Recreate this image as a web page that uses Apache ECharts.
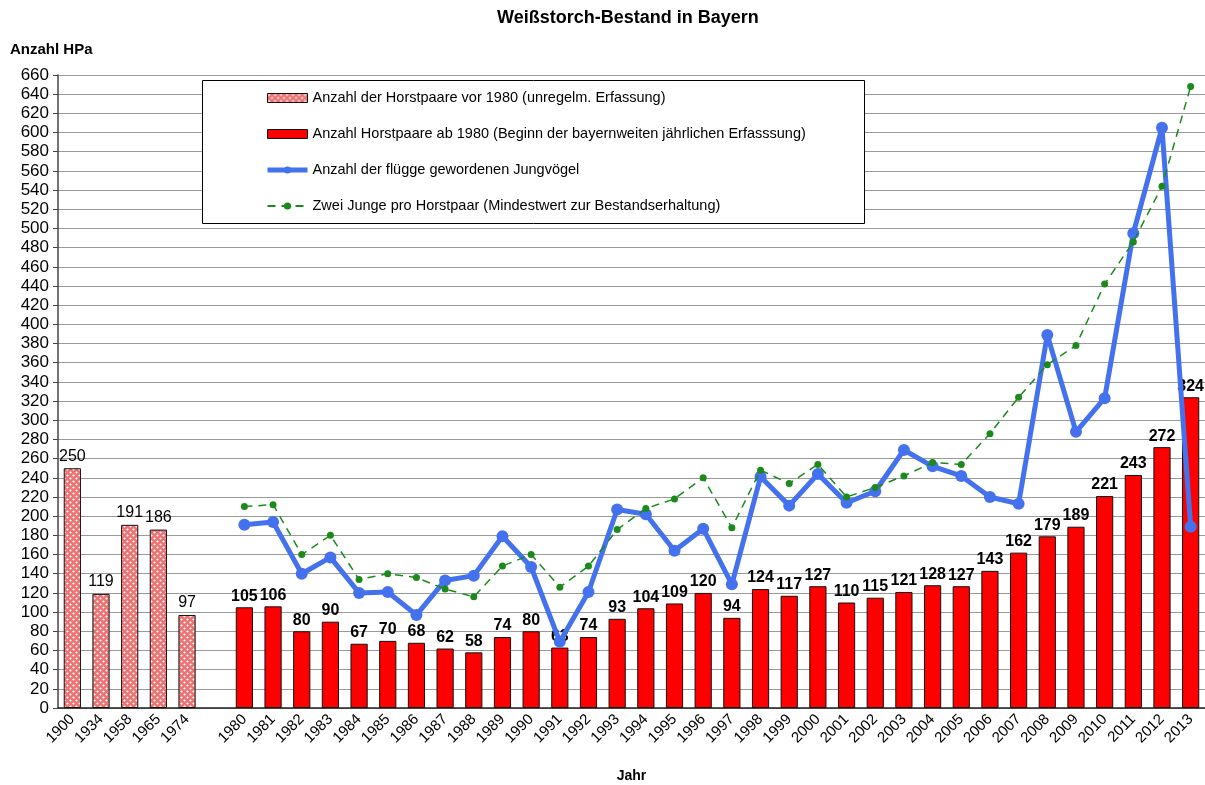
<!DOCTYPE html>
<html>
<head>
<meta charset="utf-8">
<script src="https://cdn.jsdelivr.net/npm/echarts@6/dist/echarts.min.js"></script>
<style>
html,body{margin:0;padding:0;background:#fff;}
#chart{width:1205px;height:785px;}
</style>
</head>
<body>
<div id="chart"></div>
<script>
// ---- data ----
const years = ['1900','1934','1958','1965','1974','',
  '1980','1981','1982','1983','1984','1985','1986','1987','1988','1989',
  '1990','1991','1992','1993','1994','1995','1996','1997','1998','1999',
  '2000','2001','2002','2003','2004','2005','2006','2007','2008','2009',
  '2010','2011','2012','2013'];
const pairsBefore1980 = [250,119,191,186,97];
const pairsFrom1980 = [105,106,80,90,67,70,68,62,58,74,80,63,74,93,104,109,120,94,124,117,
  127,110,115,121,128,127,143,162,179,189,221,243,272,324];
const fledglings = [191,194,140,157,120,121,97,133,138,179,147,69,121,207,202,164,187,129,241,211,
  244,214,226,269,252,242,220,213,389,288,323,495,605,189];
const twoPerPair = [210,212,160,180,134,140,136,124,116,148,160,126,148,186,208,218,240,188,248,234,
  254,220,230,242,256,254,286,324,358,378,442,486,544,648];
const seriesNames = [
  'Anzahl der Horstpaare vor 1980 (unregelm. Erfassung)',
  'Anzahl Horstpaare ab 1980 (Beginn der bayernweiten jährlichen Erfasssung)',
  'Anzahl der flügge gewordenen Jungvögel',
  'Zwei Junge pro Horstpaar (Mindestwert zur Bestandserhaltung)'
];

// ---- build ----
const nPre = pairsBefore1980.length + 1; // incl. gap slot
const pad = (n) => Array(n).fill('-');
const preData = pairsBefore1980.concat(pad(years.length - pairsBefore1980.length));
const postData = pad(nPre).concat(pairsFrom1980);
const fledgeData = pad(nPre).concat(fledglings);
const twoData = pad(nPre).concat(twoPerPair);

function makePattern(){
  const c = document.createElement('canvas');
  c.width = 6; c.height = 6;
  const g = c.getContext('2d');
  g.fillStyle = '#ee7272'; g.fillRect(0,0,6,6);
  g.fillStyle = '#ffffff';
  function dia(x,y){g.beginPath();g.moveTo(x,y-1.35);g.lineTo(x+1.35,y);g.lineTo(x,y+1.35);g.lineTo(x-1.35,y);g.closePath();g.fill();}
  dia(1.5,1.5); dia(4.5,4.5);
  return c;
}
const pattern = makePattern();

const FONT = '"Liberation Sans", Arial, sans-serif';
const chart = echarts.init(document.getElementById('chart'), null, {renderer:'canvas', width:1205, height:785});
chart.setOption({
  animation: false,
  backgroundColor: '#ffffff',
  textStyle: {fontFamily: FONT, color:'#000'},
  title: [
    {text:'Weißstorch-Bestand in Bayern', left:497, top:9, padding:0,
     textStyle:{fontFamily:FONT, fontSize:18, fontWeight:'bold', color:'#000'}},
    {text:'Anzahl HPa', left:10, top:42, padding:0,
     textStyle:{fontFamily:FONT, fontSize:15, fontWeight:'bold', color:'#000'}}
  ],
  grid: {left:58, right:0, top:75, height:633, containLabel:false, outerBoundsMode:'none'},
  graphic: [{
    type:'rect', z:10, shape:{x:202.5, y:80.5, width:662, height:143},
    style:{fill:'#fff', stroke:'#000', lineWidth:1}
  }],
  legend: {
    orient:'vertical', left:265, top:90, z:20, padding:0,
    itemWidth:40, itemHeight:9, itemGap:20,
    textStyle:{fontFamily:FONT, fontSize:14.5, color:'#000', lineHeight:16},
    data: [
      {name: seriesNames[0], icon:'rect', itemStyle:{color:{image:pattern, repeat:'repeat'}, borderColor:'#111', borderWidth:1}},
      {name: seriesNames[1], icon:'rect', itemStyle:{color:'#ff0000', borderColor:'#111', borderWidth:1}},
      {name: seriesNames[2], lineStyle:{width:5}},
      {name: seriesNames[3]}
    ]
  },
  xAxis: {
    type:'category', data: years,
    name:'Jahr', nameLocation:'middle', nameGap:61,
    nameTextStyle:{fontFamily:FONT, fontSize:14, fontWeight:'bold', color:'#000'},
    axisLine:{lineStyle:{color:'#222', width:1.5}},
    axisTick:{show:false},
    axisLabel:{rotate:45, interval:0, margin:9, fontFamily:FONT, fontSize:15, color:'#000'},
    splitLine:{show:false}
  },
  yAxis: {
    type:'value', min:0, max:660, interval:20,
    axisLine:{show:true, lineStyle:{color:'#444', width:1.5}},
    axisTick:{show:true, length:5, lineStyle:{color:'#444'}},
    axisLabel:{fontFamily:FONT, fontSize:17, color:'#000', margin:9},
    splitLine:{lineStyle:{color:'#9a9a9a', width:1.2}}
  },
  series: [
    {
      name: seriesNames[0], type:'bar', data: preData, barWidth:'60%', barGap:'-100%',
      itemStyle:{color:{image:pattern, repeat:'repeat'}, borderColor:'#111', borderWidth:1},
      label:{show:true, position:'top', distance:4, fontFamily:FONT, fontSize:16, color:'#000'},
      z:2
    },
    {
      name: seriesNames[1], type:'bar', data: postData, barWidth:'60%', barGap:'-100%',
      itemStyle:{color:'#ff0000', borderColor:'#111', borderWidth:1},
      label:{show:true, position:'top', distance:3, fontFamily:FONT, fontSize:16, fontWeight:'bold', color:'#000'},
      z:2
    },
    {
      name: seriesNames[2], type:'line', data: fledgeData,
      symbol:'circle', symbolSize:12,
      lineStyle:{color:'#4472ee', width:5},
      itemStyle:{color:'#4472ee'},
      z:5
    },
    {
      name: seriesNames[3], type:'line', data: twoData,
      symbol:'circle', symbolSize:7,
      lineStyle:{color:'#1b8a1b', width:1.5, type:[8,6]},
      itemStyle:{color:'#1b8a1b'},
      z:6
    }
  ]
});
</script>
</body>
</html>
